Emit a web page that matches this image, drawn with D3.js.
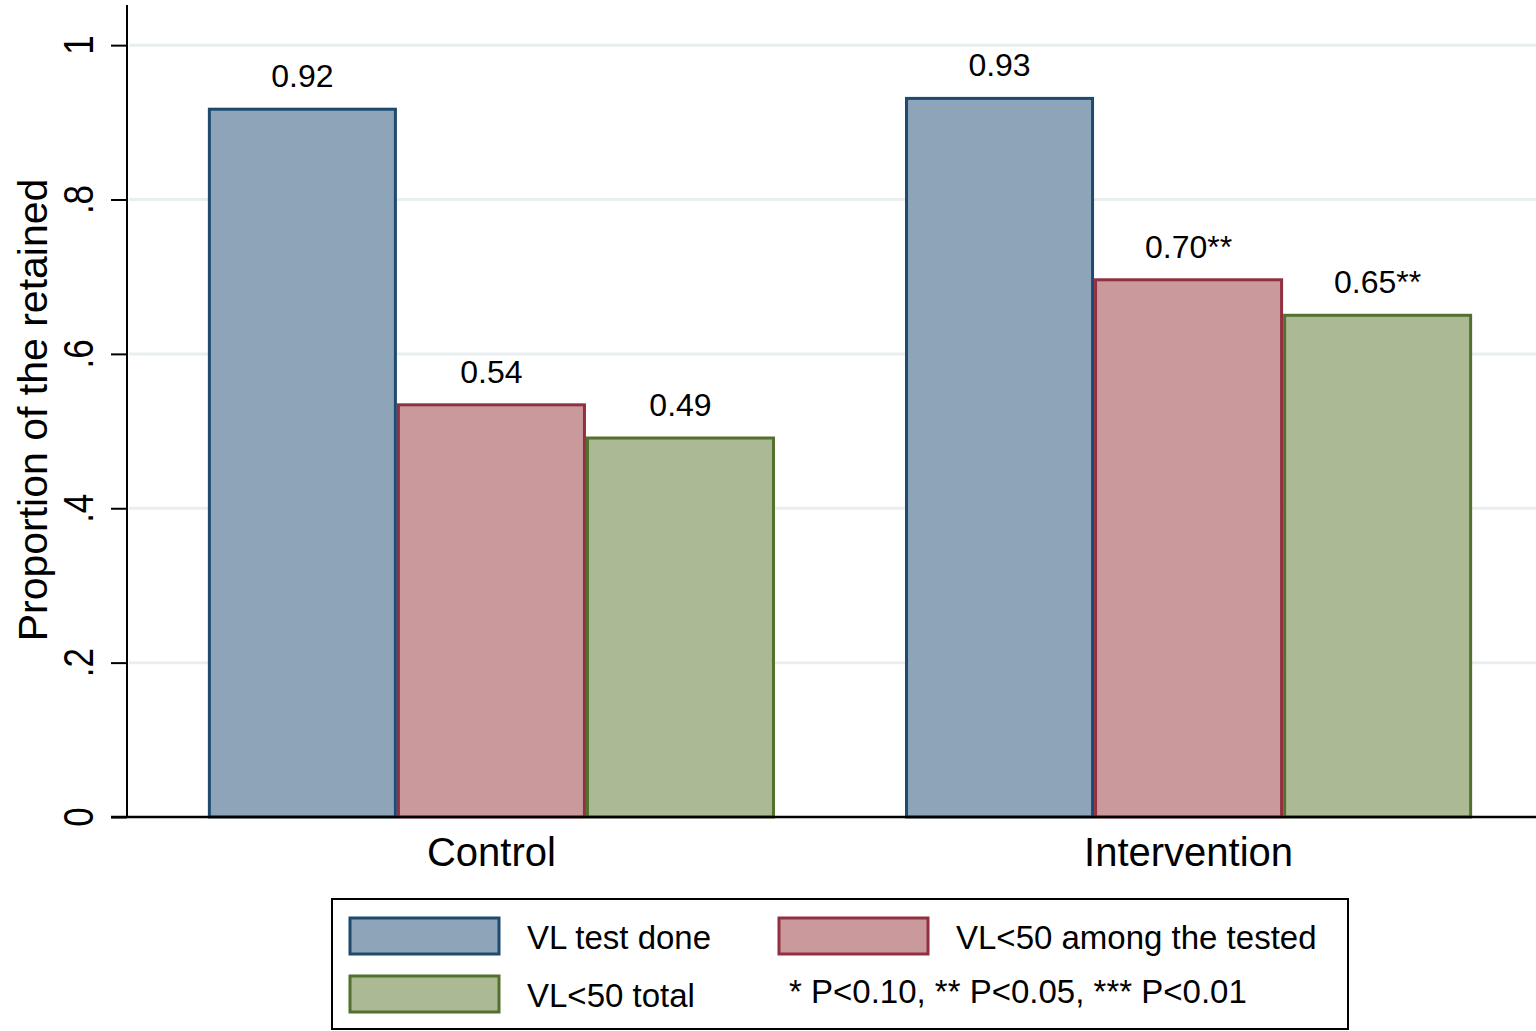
<!DOCTYPE html>
<html lang="en">
<head>
<meta charset="UTF-8">
<title>Proportion of the retained</title>
<script src="https://d3js.org/d3.v7.min.js"></script>
<style>
    body { margin: 0; background: #fff; }
    svg { display: block; font-family: "Liberation Sans", Arial, sans-serif; }
</style>
</head>
<body>
<script>
// data
const groups = ["Control", "Intervention"];
const series = ["VL test done", "VL<50 among the tested", "VL<50 total"];
const controlValues = [0.917, 0.534, 0.491];
const interventionValues = [0.931, 0.696, 0.650];
const controlLabels = ["0.92", "0.54", "0.49"];
const interventionLabels = ["0.93", "0.70**", "0.65**"];
const yTicks = [0, 0.2, 0.4, 0.6, 0.8, 1];
const yTickLabels = ["0", ".2", ".4", ".6", ".8", "1"];
const noteText = "* P<0.10, ** P<0.05, *** P<0.01";

const fills = ["#8ea4b9", "#c9999c", "#abb995"];
const strokes = ["#1f4a70", "#913040", "#52702e"];

const width = 1536, height = 1031;
const svg = d3.select("body").append("svg")
    .attr("width", width).attr("height", height);

const rows = [];
groups.forEach((g, gi) => {
    const vals = gi === 0 ? controlValues : interventionValues;
    const labs = gi === 0 ? controlLabels : interventionLabels;
    series.forEach((s, si) => rows.push({group: g, series: s, value: vals[si], label: labs[si], i: si}));
});

// scales
const x0 = d3.scaleBand().domain(groups).range([127, 1553])
    .paddingInner(0.1865).paddingOuter(0.116);
const x1 = d3.scaleBand().domain(series).range([0, x0.bandwidth()]);
const y = d3.scaleLinear().domain([0, 1.052]).range([817, 5]);

// grid lines
svg.append("g").selectAll("line").data(yTicks.filter(d => d > 0)).join("line")
    .attr("x1", 129).attr("x2", width)
    .attr("y1", d => y(d)).attr("y2", d => y(d))
    .attr("stroke", "#e9eff1").attr("stroke-width", 3);

// bars
svg.append("g").selectAll("rect").data(rows).join("rect")
    .attr("x", d => x0(d.group) + x1(d.series) + 1.5)
    .attr("y", d => y(d.value))
    .attr("width", x1.bandwidth() - 3)
    .attr("height", d => y(0) - y(d.value))
    .attr("fill", d => fills[d.i])
    .attr("stroke", d => strokes[d.i])
    .attr("stroke-width", 3);

// value labels
svg.append("g").selectAll("text").data(rows).join("text")
    .attr("x", d => x0(d.group) + x1(d.series) + x1.bandwidth() / 2)
    .attr("y", d => y(d.value) - 22)
    .attr("text-anchor", "middle")
    .attr("font-size", 32)
    .text(d => d.label);

// y axis
const yAxis = svg.append("g").attr("transform", "translate(127,0)")
    .call(d3.axisLeft(y).tickValues(yTicks).tickSize(16).tickFormat(""));
yAxis.select(".domain").attr("d", `M0,${y(0)}V5`).attr("stroke", "#000").attr("stroke-width", 2);
yAxis.selectAll(".tick line").attr("stroke", "#000").attr("stroke-width", 2);

svg.append("g").selectAll("text").data(yTicks).join("text")
    .attr("transform", d => `translate(93,${y(d)}) rotate(-90) scale(1,1.22)`)
    .attr("text-anchor", "middle")
    .attr("font-size", 35)
    .text((d, i) => yTickLabels[i]);

svg.append("text")
    .attr("transform", `translate(47,410) rotate(-90)`)
    .attr("text-anchor", "middle")
    .attr("font-size", 41)
    .text("Proportion of the retained");

// x axis
svg.append("line")
    .attr("x1", 111).attr("x2", width)
    .attr("y1", y(0)).attr("y2", y(0))
    .attr("stroke", "#000").attr("stroke-width", 2.5);

svg.append("g").selectAll("text").data(groups).join("text")
    .attr("x", d => x0(d) + x0.bandwidth() / 2)
    .attr("y", 866)
    .attr("text-anchor", "middle")
    .attr("font-size", 40)
    .text(d => d);

// legend
const legend = svg.append("g");
legend.append("rect")
    .attr("x", 332).attr("y", 899).attr("width", 1016).attr("height", 130)
    .attr("fill", "#fff").attr("stroke", "#000").attr("stroke-width", 2);

const keyPos = [[350, 918], [779, 918], [350, 976]];
series.forEach((s, i) => {
    legend.append("rect")
        .attr("x", keyPos[i][0]).attr("y", keyPos[i][1])
        .attr("width", 149).attr("height", 36)
        .attr("fill", fills[i]).attr("stroke", strokes[i]).attr("stroke-width", 3);
    legend.append("text")
        .attr("x", keyPos[i][0] + 177).attr("y", keyPos[i][1] + 31)
        .attr("font-size", 33)
        .text(s);
});
legend.append("text")
    .attr("x", 789).attr("y", 1003)
    .attr("font-size", 33)
    .text(noteText);
</script>
</body>
</html>
